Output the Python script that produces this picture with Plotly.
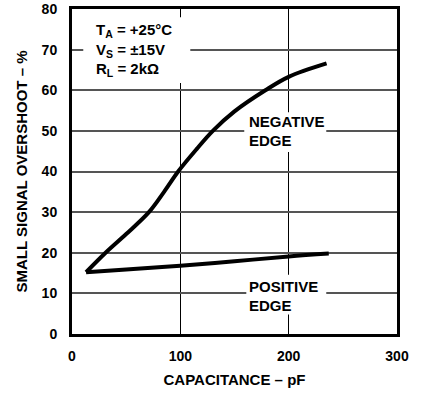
import plotly.graph_objects as go

# Data
neg_x = [13, 31, 50, 71, 85, 98, 115, 130, 150, 178.5, 200, 235]
neg_y = [15.2, 20, 24.6, 30, 35, 40, 45.5, 50, 54.8, 60, 63.3, 66.6]
pos_x = [13, 50, 100, 150, 200, 237]
pos_y = [15.2, 15.9, 16.8, 17.9, 19.1, 19.8]

x_ticks = [0, 100, 200, 300]
y_ticks = [0, 10, 20, 30, 40, 50, 60, 70, 80]

FONT = "Liberation Sans, Arial, sans-serif"

fig = go.Figure()
fig.add_trace(go.Scatter(x=neg_x, y=neg_y, mode="lines", line=dict(color="black", width=4, shape="spline"),
                         showlegend=False, hoverinfo="skip"))
fig.add_trace(go.Scatter(x=pos_x, y=pos_y, mode="lines", line=dict(color="black", width=4, shape="spline"),
                         showlegend=False, hoverinfo="skip"))

# white label boxes covering gridlines
for x0, x1, y0, y1 in [(10.4, 109.2, 61.8, 78.0), (159, 234.7, 44.8, 54.6), (160.9, 234.7, 4.8, 14.6)]:
    fig.add_shape(type="rect", x0=x0, x1=x1, y0=y0, y1=y1, xref="x", yref="y",
                  fillcolor="white", line=dict(width=0), layer="between")

ann_font = dict(family=FONT, size=15, color="black")
lines = [
    ("T<sub>A</sub> = +25°C", 20.6, 74.8),
    ("V<sub>S</sub> = ±15V", 20.6, 69.9),
    ("R<sub>L</sub> = 2kΩ", 20.6, 65.2),
    ("NEGATIVE", 161.8, 52.2),
    ("EDGE", 161.8, 47.7),
    ("POSITIVE", 161.8, 11.65),
    ("EDGE", 161.8, 6.98),
]
for t, x, y in lines:
    fig.add_annotation(text="<b>" + t + "</b>", x=x, y=y, xref="x", yref="y",
                       xanchor="left", yanchor="middle", showarrow=False, font=ann_font)

fig.update_xaxes(range=[0, 300], tickvals=x_ticks, ticktext=[str(v) for v in x_ticks],
                 showgrid=True, gridcolor="black", gridwidth=1, zeroline=False,
                 showline=True, linecolor="black", linewidth=3, mirror=True,
                 ticks="", ticklabelstandoff=7,
                 tickfont=dict(family=FONT, size=14, color="black", weight="bold"),
                 title=dict(text="<b>CAPACITANCE – pF</b>", font=dict(family=FONT, size=15, color="black"),
                            standoff=12))
fig.update_yaxes(range=[0, 80], tickvals=y_ticks, ticktext=[str(v) for v in y_ticks],
                 showgrid=True, gridcolor="#555555", gridwidth=2, zeroline=False,
                 showline=True, linecolor="black", linewidth=3, mirror=True,
                 ticks="", ticklabelstandoff=9,
                 tickfont=dict(family=FONT, size=14, color="black", weight="bold"),
                 title=dict(text="<b>SMALL SIGNAL OVERSHOOT – %</b>", font=dict(family=FONT, size=15, color="black"),
                            standoff=11))

fig.update_layout(width=422, height=396, margin=dict(l=72, r=25, t=9, b=62, autoexpand=False),
                  plot_bgcolor="white", paper_bgcolor="white")

# remove the default 8px page margin so the figure fills the window exactly
fig.write_html("out.html", config={"displayModeBar": False, "staticPlot": True},
               post_script="document.body.style.margin='0';document.body.style.overflow='hidden';")
